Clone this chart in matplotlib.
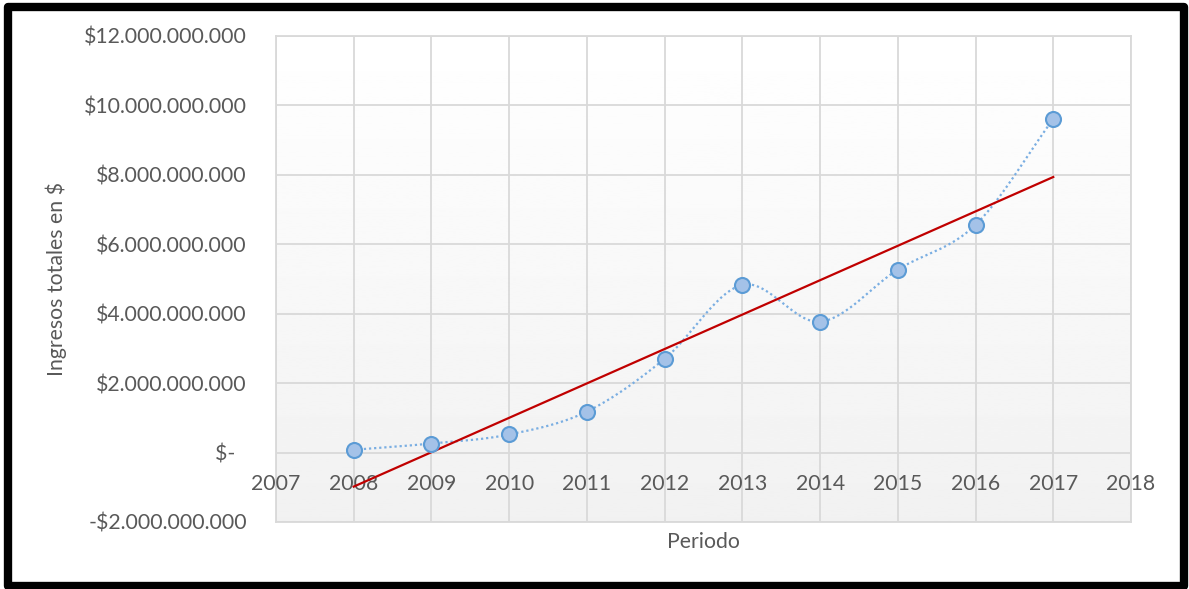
import numpy as np
import matplotlib
matplotlib.use("Agg")
import matplotlib.pyplot as plt
from matplotlib.patches import Rectangle
from matplotlib.ticker import FuncFormatter

plt.rcParams['font.family'] = ['Lato', 'DejaVu Sans']

years = [2008, 2009, 2010, 2011, 2012, 2013, 2014, 2015, 2016, 2017]
ingresos = [0.08e9, 0.26e9, 0.52e9, 1.18e9, 2.70e9, 4.83e9, 3.77e9, 5.27e9, 6.56e9, 9.61e9]
xticks = list(range(2007, 2019))
yticks = [-2e9, 0, 2e9, 4e9, 6e9, 8e9, 10e9, 12e9]

txt = '#595959'
grid = '#d9d9d9'


def money(v, pos=None):
    if v == 0:
        return '$-  '
    s = '{:,.0f}'.format(abs(v)).replace(',', '.')
    return ('-$' if v < 0 else '$') + s


def catmull_rom(x, y, n=30):
    # excel-like smoothed line through every point
    px = np.concatenate([[2 * x[0] - x[1]], x, [2 * x[-1] - x[-2]]])
    py = np.concatenate([[2 * y[0] - y[1]], y, [2 * y[-1] - y[-2]]])
    t = np.linspace(0, 1, n)
    outx, outy = [], []
    for i in range(1, len(px) - 2):
        for p, out in ((px, outx), (py, outy)):
            p0, p1, p2, p3 = p[i - 1], p[i], p[i + 1], p[i + 2]
            c1 = p1 + (p2 - p0) / 6
            c2 = p2 - (p3 - p1) / 6
            out.extend((1 - t) ** 3 * p1 + 3 * (1 - t) ** 2 * t * c1
                       + 3 * (1 - t) * t ** 2 * c2 + t ** 3 * p2)
    return np.array(outx), np.array(outy)


fig = plt.figure(figsize=(11.89, 5.89), dpi=100)
ax = fig.add_axes([0.2321, 0.1138, 0.7191, 0.8251])

x = np.array(years, dtype=float)
y = np.array(ingresos)

# soft vertical gradient in the plot area
grad = np.linspace(0.945, 1.0, 256).reshape(-1, 1)
ax.imshow(grad, extent=[2007, 2018, -2e9, 12e9], aspect='auto', origin='lower',
          cmap='gray', vmin=0, vmax=1, zorder=0)

ax.set_xlim(2007, 2018)
ax.set_ylim(-2e9, 12e9)
ax.set_xticks(xticks)
ax.set_xticklabels([])
ax.set_yticks(yticks)
ax.yaxis.set_major_formatter(FuncFormatter(money))
ax.tick_params(length=0)
ax.tick_params(axis='y', pad=21, labelsize=15.3, labelcolor=txt)
ax.grid(True, color=grid, lw=1.3, zorder=1)
for s in ax.spines.values():
    s.set_color(grid)
    s.set_linewidth(1.3)

# year labels sit under the zero line
for yr in xticks:
    ax.annotate(str(yr), (yr, 0), xytext=(0, -23), textcoords='offset points',
                ha='center', va='center', fontsize=15.3, color=txt)

sx, sy = catmull_rom(x, y)
ax.plot(sx, sy, ls=(0, (1, 1.3)), color='#7aaee2', lw=1.6, zorder=3)
ax.plot(x, y, 'o', ms=10.8, mfc='#a4c2e8', mec='#5b9bd5', mew=1.5, zorder=5)

m, b = np.polyfit(x - x[0], y, 1)
ax.plot(x, m * (x - x[0]) + b, color='#c00000', lw=1.6, zorder=4)

ax.set_ylabel('Ingresos totales en $', fontsize=15.3, color=txt, labelpad=12)
ax.set_xlabel('Periodo', fontsize=15.3, color=txt, labelpad=4)

fig.patches.append(Rectangle((8 / 1189, 3 / 589), 1176 / 1189, 579 / 589,
                             transform=fig.transFigure, fill=False, ec='black',
                             lw=6, joinstyle='round'))

fig.savefig('out.png', dpi=100)
